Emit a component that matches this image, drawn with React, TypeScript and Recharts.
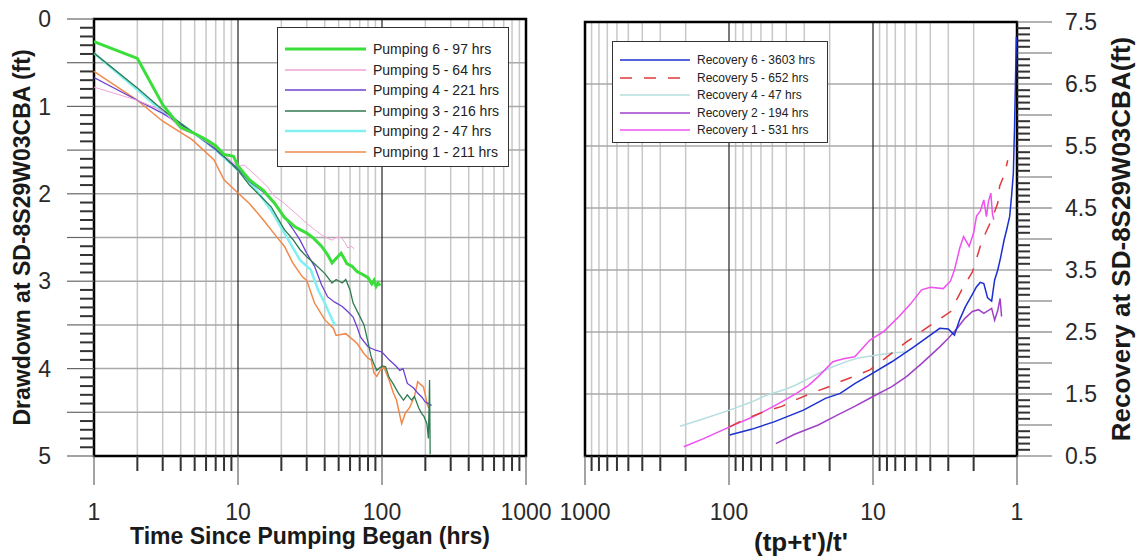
import React from "react";
import {
  LineChart,
  Line,
  XAxis,
  YAxis,
  CartesianGrid,
  ReferenceArea,
  Legend
} from "recharts";

const FONT = '"Liberation Sans", Arial, Helvetica, sans-serif';

// log axis, shared by both panels
const decadeTicks = [1, 10, 100, 1000];
const logTicks = [
  1, 2, 3, 4, 5, 6, 7, 8, 9, 10, 20, 30, 40, 50, 60, 70, 80, 90, 100,
  200, 300, 400, 500, 600, 700, 800, 900, 1000
];
const minorGridX = [
  2, 3, 4, 5, 6, 7, 8, 9, 20, 30, 40, 50, 60, 70, 80, 90, 200, 300, 400, 500,
  600, 700, 800, 900
];
const darkGridX = [10, 100];

const drawdownGridY = [0.5, 1, 1.5, 2, 2.5, 3, 3.5, 4, 4.5];
const recoveryGridY = [1.5, 2.5, 3.5, 4.5, 5.5, 6.5];

// minor ticks every 0.1 ft
const tenths = (a: number, b: number) =>
  Array.from({ length: Math.round((b - a) * 10) + 1 }, (_, i) => Math.round(a * 10 + i) / 10);
const drawdownTicks = tenths(0, 5);
const recoveryTicks = tenths(0.5, 7.5);

// ---- pumping tests: t = hours since pumping began, d = drawdown (ft)
const pump6 = [
  { t: 1, d: 0.26 }, { t: 2, d: 0.45 }, { t: 3, d: 0.98 }, { t: 4, d: 1.24 },
  { t: 5, d: 1.31 }, { t: 6, d: 1.38 }, { t: 7, d: 1.45 }, { t: 8, d: 1.55 },
  { t: 9.3, d: 1.57 }, { t: 10, d: 1.68 }, { t: 12, d: 1.84 }, { t: 15, d: 1.96 },
  { t: 18, d: 2.11 }, { t: 21, d: 2.27 }, { t: 25, d: 2.38 }, { t: 30, d: 2.45 },
  { t: 33, d: 2.5 }, { t: 38, d: 2.6 }, { t: 42, d: 2.7 }, { t: 45, d: 2.79 },
  { t: 48, d: 2.74 }, { t: 52, d: 2.68 }, { t: 55, d: 2.75 }, { t: 57, d: 2.8 },
  { t: 62, d: 2.83 }, { t: 67, d: 2.89 }, { t: 73, d: 2.92 }, { t: 80, d: 2.96 },
  { t: 85, d: 3.03 }, { t: 88, d: 2.99 }, { t: 91, d: 3.06 }, { t: 94, d: 3.02 },
  { t: 97, d: 3.05 }
];
const pump5 = [
  { t: 1, d: 0.78 }, { t: 2, d: 0.93 }, { t: 3, d: 1.05 }, { t: 4, d: 1.26 },
  { t: 5, d: 1.32 }, { t: 7, d: 1.47 }, { t: 10, d: 1.69 }, { t: 11, d: 1.67 },
  { t: 13.5, d: 1.8 }, { t: 16, d: 1.92 }, { t: 18, d: 2.03 }, { t: 21, d: 2.11 },
  { t: 25, d: 2.22 }, { t: 30, d: 2.34 }, { t: 34, d: 2.41 }, { t: 38, d: 2.47 },
  { t: 42, d: 2.51 }, { t: 45, d: 2.53 }, { t: 48, d: 2.5 }, { t: 52, d: 2.5 },
  { t: 55, d: 2.55 }, { t: 58, d: 2.62 }, { t: 61, d: 2.6 }, { t: 64, d: 2.63 }
];
const pump4 = [
  { t: 1, d: 0.67 }, { t: 2, d: 0.93 }, { t: 3, d: 1.08 }, { t: 4.8, d: 1.29 },
  { t: 6.8, d: 1.48 }, { t: 10, d: 1.71 }, { t: 12, d: 1.86 }, { t: 15, d: 1.98 },
  { t: 17, d: 2.07 }, { t: 21, d: 2.26 }, { t: 24, d: 2.4 }, { t: 27, d: 2.53 },
  { t: 30, d: 2.68 }, { t: 34, d: 2.83 }, { t: 38, d: 3.04 }, { t: 42, d: 3.18 },
  { t: 47, d: 3.24 }, { t: 53, d: 3.29 }, { t: 58, d: 3.35 }, { t: 63, d: 3.41 },
  { t: 67, d: 3.52 }, { t: 71, d: 3.64 }, { t: 80, d: 3.75 }, { t: 90, d: 3.79 },
  { t: 100, d: 3.81 }, { t: 112, d: 3.9 }, { t: 125, d: 3.97 }, { t: 133, d: 4.02 },
  { t: 140, d: 4.0 }, { t: 150, d: 4.17 }, { t: 165, d: 4.22 }, { t: 177, d: 4.28 },
  { t: 190, d: 4.33 }, { t: 199, d: 4.38 }, { t: 210, d: 4.4 }, { t: 221, d: 4.42 }
];
const pump3 = [
  { t: 1, d: 0.39 }, { t: 2, d: 0.79 }, { t: 3, d: 1.04 }, { t: 4.8, d: 1.29 },
  { t: 6.8, d: 1.46 }, { t: 10, d: 1.73 }, { t: 12, d: 1.9 }, { t: 17, d: 2.15 },
  { t: 21, d: 2.41 }, { t: 24, d: 2.52 }, { t: 27, d: 2.64 }, { t: 30, d: 2.72 },
  { t: 34, d: 2.8 }, { t: 40, d: 2.91 }, { t: 45, d: 3.02 }, { t: 48, d: 2.98 },
  { t: 53, d: 3.02 }, { t: 56, d: 2.98 }, { t: 60, d: 3.1 }, { t: 63, d: 3.25 },
  { t: 70, d: 3.4 }, { t: 75, d: 3.5 }, { t: 80, d: 3.7 }, { t: 84, d: 3.86 },
  { t: 88, d: 3.95 }, { t: 92, d: 4.02 }, { t: 100, d: 3.97 }, { t: 106, d: 3.98 },
  { t: 112, d: 4.1 }, { t: 119, d: 4.17 }, { t: 130, d: 4.28 }, { t: 141, d: 4.36 },
  { t: 150, d: 4.3 }, { t: 160, d: 4.36 }, { t: 168, d: 4.32 }, { t: 180, d: 4.45 },
  { t: 188, d: 4.51 }, { t: 196, d: 4.55 }, { t: 205, d: 4.63 }, { t: 210, d: 4.8 },
  { t: 214, d: 4.13 }, { t: 216, d: 4.98 }
];
const pump2 = [
  { t: 1, d: 0.39 }, { t: 2, d: 0.81 }, { t: 3, d: 1.06 }, { t: 4.8, d: 1.29 },
  { t: 6.8, d: 1.48 }, { t: 10, d: 1.73 }, { t: 13.5, d: 1.96 }, { t: 17, d: 2.19 },
  { t: 21, d: 2.45 }, { t: 27, d: 2.76 }, { t: 32, d: 2.87 }, { t: 36, d: 3.1 },
  { t: 40, d: 3.25 }, { t: 44, d: 3.4 }, { t: 47, d: 3.5 }
];
const pump1 = [
  { t: 1, d: 0.6 }, { t: 2, d: 0.93 }, { t: 3, d: 1.17 }, { t: 4.8, d: 1.38 },
  { t: 6.8, d: 1.61 }, { t: 8, d: 1.84 }, { t: 10, d: 1.99 }, { t: 12, d: 2.11 },
  { t: 15, d: 2.3 }, { t: 18.5, d: 2.49 }, { t: 21, d: 2.6 }, { t: 24, d: 2.79 },
  { t: 28, d: 2.95 }, { t: 30, d: 2.99 }, { t: 34, d: 3.25 }, { t: 40, d: 3.44 },
  { t: 46, d: 3.54 }, { t: 48, d: 3.62 }, { t: 56, d: 3.6 }, { t: 67, d: 3.71 },
  { t: 75, d: 3.83 }, { t: 80, d: 3.88 }, { t: 84, d: 3.9 }, { t: 88, d: 4.05 },
  { t: 92, d: 4.09 }, { t: 97, d: 4.02 }, { t: 103, d: 3.98 }, { t: 112, d: 4.13 },
  { t: 120, d: 4.28 }, { t: 126, d: 4.36 }, { t: 137, d: 4.63 }, { t: 145, d: 4.51 },
  { t: 155, d: 4.45 }, { t: 168, d: 4.32 }, { t: 177, d: 4.15 }, { t: 185, d: 4.18 },
  { t: 194, d: 4.21 }, { t: 200, d: 4.3 }, { t: 205, d: 4.4 }, { t: 211, d: 4.45 }
];

// ---- recovery tests: v = (tp+t')/t', r = recovery (ft)
const rec6 = [
  { v: 99, r: 0.84 }, { v: 70, r: 0.93 }, { v: 48.7, r: 1.05 }, { v: 30.4, r: 1.24 },
  { v: 21.4, r: 1.43 }, { v: 16.9, r: 1.51 }, { v: 13.3, r: 1.67 }, { v: 10.5, r: 1.81 },
  { v: 7.4, r: 2.02 }, { v: 5.2, r: 2.26 }, { v: 4.0, r: 2.45 }, { v: 3.44, r: 2.56 },
  { v: 3.0, r: 2.55 }, { v: 2.72, r: 2.45 }, { v: 2.5, r: 2.7 }, { v: 2.28, r: 2.91 },
  { v: 2.05, r: 3.1 }, { v: 1.91, r: 3.23 }, { v: 1.8, r: 3.3 }, { v: 1.7, r: 3.28 },
  { v: 1.6, r: 3.05 }, { v: 1.5, r: 3.0 }, { v: 1.43, r: 3.34 }, { v: 1.36, r: 3.5 },
  { v: 1.3, r: 3.7 }, { v: 1.23, r: 3.98 }, { v: 1.18, r: 4.15 }, { v: 1.125, r: 4.36 },
  { v: 1.09, r: 4.7 }, { v: 1.06, r: 5.06 }, { v: 1.04, r: 5.81 }, { v: 1.02, r: 6.78 },
  { v: 1.01, r: 7.26 }
];
const rec5 = [
  { v: 99, r: 0.97 }, { v: 80, r: 1.08 }, { v: 61, r: 1.19 }, { v: 43, r: 1.3 },
  { v: 35, r: 1.4 }, { v: 27, r: 1.51 }, { v: 20, r: 1.62 }, { v: 16.9, r: 1.7 },
  { v: 13, r: 1.8 }, { v: 10.5, r: 1.89 }, { v: 8.5, r: 2.05 }, { v: 7.4, r: 2.16 },
  { v: 5.85, r: 2.34 }, { v: 4.1, r: 2.59 }, { v: 2.89, r: 2.83 }, { v: 2.42, r: 3.18 },
  { v: 2.04, r: 3.47 }, { v: 1.8, r: 3.88 }, { v: 1.65, r: 4.1 }, { v: 1.5, r: 4.31 },
  { v: 1.36, r: 4.58 }, { v: 1.32, r: 4.85 }, { v: 1.22, r: 5.05 }, { v: 1.16, r: 5.27 }
];
const rec4 = [
  { v: 219, r: 0.98 }, { v: 150, r: 1.1 }, { v: 99, r: 1.24 }, { v: 70, r: 1.37 },
  { v: 55, r: 1.48 }, { v: 40, r: 1.58 }, { v: 34, r: 1.65 }, { v: 28, r: 1.75 },
  { v: 24, r: 1.83 }, { v: 19, r: 1.94 }, { v: 15, r: 2.03 }, { v: 12.6, r: 2.08 },
  { v: 9.4, r: 2.13 }, { v: 7.4, r: 2.16 }, { v: 5.8, r: 2.18 }
];
const rec2 = [
  { v: 47.3, r: 0.7 }, { v: 35, r: 0.85 }, { v: 24, r: 1.0 }, { v: 18, r: 1.15 },
  { v: 13.4, r: 1.3 }, { v: 10, r: 1.46 }, { v: 7.4, r: 1.62 }, { v: 5.85, r: 1.78 },
  { v: 4.6, r: 1.99 }, { v: 3.44, r: 2.26 }, { v: 3.0, r: 2.4 }, { v: 2.6, r: 2.56 },
  { v: 2.3, r: 2.72 }, { v: 2.04, r: 2.83 }, { v: 1.85, r: 2.86 }, { v: 1.7, r: 2.8 },
  { v: 1.5, r: 2.88 }, { v: 1.43, r: 2.69 }, { v: 1.36, r: 2.85 }, { v: 1.31, r: 3.04 },
  { v: 1.28, r: 2.75 }
];
const rec1 = [
  { v: 206, r: 0.65 }, { v: 150, r: 0.78 }, { v: 99, r: 0.97 }, { v: 70, r: 1.12 },
  { v: 55, r: 1.24 }, { v: 45, r: 1.35 }, { v: 34, r: 1.51 }, { v: 28, r: 1.64 },
  { v: 24, r: 1.78 }, { v: 19, r: 2.02 }, { v: 16, r: 2.07 }, { v: 13.4, r: 2.1 },
  { v: 10.5, r: 2.37 }, { v: 8.4, r: 2.51 }, { v: 6.6, r: 2.75 }, { v: 5.5, r: 2.95 },
  { v: 4.6, r: 3.18 }, { v: 4.0, r: 3.22 }, { v: 3.25, r: 3.2 }, { v: 2.9, r: 3.32 },
  { v: 2.72, r: 3.5 }, { v: 2.5, r: 3.85 }, { v: 2.35, r: 4.04 }, { v: 2.15, r: 3.88 },
  { v: 2.0, r: 4.1 }, { v: 1.91, r: 4.37 }, { v: 1.8, r: 4.45 }, { v: 1.7, r: 4.63 },
  { v: 1.63, r: 4.36 }, { v: 1.58, r: 4.6 }, { v: 1.52, r: 4.74 }, { v: 1.48, r: 4.4 },
  { v: 1.45, r: 4.31 }
];

// draw order = array order; legend order via legendOrder
const pumpSeries = [
  { key: "p1", name: "Pumping 1 - 211 hrs", data: pump1, color: "#f0894a", width: 1.5 },
  { key: "p2", name: "Pumping 2 - 47 hrs", data: pump2, color: "#80f0f0", width: 2.5 },
  { key: "p4", name: "Pumping 4 - 221 hrs", data: pump4, color: "#6a40d0", width: 1.3 },
  { key: "p3", name: "Pumping 3 - 216 hrs", data: pump3, color: "#2f7a50", width: 1.3 },
  { key: "p5", name: "Pumping 5 - 64 hrs", data: pump5, color: "#f0a2d6", width: 1 },
  { key: "p6", name: "Pumping 6 - 97 hrs", data: pump6, color: "#3ade3a", width: 3 }
];
const pumpLegendOrder = ["p6", "p5", "p4", "p3", "p2", "p1"];

const recSeries = [
  { key: "r4", name: "Recovery 4 - 47 hrs", data: rec4, color: "#b6dede", width: 1.5, dash: "" },
  { key: "r1", name: "Recovery 1 - 531 hrs", data: rec1, color: "#f050f0", width: 1.5, dash: "" },
  { key: "r2", name: "Recovery 2 - 194 hrs", data: rec2, color: "#a040c8", width: 1.5, dash: "" },
  { key: "r5", name: "Recovery 5 - 652 hrs", data: rec5, color: "#e03a3a", width: 1.5, dash: "12 12" },
  { key: "r6", name: "Recovery 6 - 3603 hrs", data: rec6, color: "#1a2fd0", width: 1.5, dash: "" }
];
const recLegendOrder = ["r6", "r5", "r4", "r2", "r1"];

type TickProps = { x?: number; y?: number; payload?: { value: number } };

function LogTick({ x = 0, y = 0, payload }: TickProps) {
  const v = payload ? payload.value : 0;
  const major = decadeTicks.includes(v);
  return (
    <g>
      <line x1={x} x2={x} y1={y} y2={y + (major ? 29 : 15)} stroke={major ? "#666" : "#333"} strokeWidth={major ? 1.2 : 2} />
      {major && (
        <text x={x} y={y + 64} textAnchor="middle" fontSize={23} fill="#2a2a2a" fontFamily={FONT}>
          {v}
        </text>
      )}
    </g>
  );
}

const isStep = (v: number, step: number) => Math.abs(v / step - Math.round(v / step)) < 1e-6;

function DrawdownTick({ x = 0, y = 0, payload }: TickProps) {
  const v = payload ? payload.value : 0;
  const half = isStep(v, 0.5);
  return (
    <g>
      <line x1={x} x2={x - (half ? 27 : 14)} y1={y} y2={y} stroke={half ? "#666" : "#333"} strokeWidth={half ? 1.2 : 2} />
      {isStep(v, 1) && (
        <text x={x - 43} y={y} dy="0.36em" textAnchor="end" fontSize={23} fill="#2a2a2a" fontFamily={FONT}>
          {Math.round(v)}
        </text>
      )}
    </g>
  );
}

function RecoveryTick({ x = 0, y = 0, payload }: TickProps) {
  const v = payload ? payload.value : 0;
  const half = isStep(v, 0.5);
  return (
    <g>
      <line x1={x} x2={x + (half ? 35 : 13)} y1={y} y2={y} stroke={half ? "#666" : "#333"} strokeWidth={half ? 1.2 : 2} />
      {isStep(v - 0.5, 1) && (
        <text x={x + 48} y={y} dy="0.36em" textAnchor="start" fontSize={23} fill="#2a2a2a" fontFamily={FONT}>
          {v.toFixed(1)}
        </text>
      )}
    </g>
  );
}

type LegendItem = { key: string; name: string; color: string; width: number; dash?: string };

function LegendBox({ items, order, fontSize, rowHeight, lineLen, padTop, height }: {
  items: LegendItem[]; order: string[]; fontSize: number; rowHeight: number; lineLen: number; padTop: number; height: number;
}) {
  return (
    <div
      style={{
        boxSizing: "border-box",
        height,
        border: "1.5px solid #333",
        background: "#fff",
        paddingTop: padTop,
        paddingLeft: 7,
        fontFamily: FONT
      }}
    >
      {order.map((k) => {
        const it = items.find((s) => s.key === k)!;
        return (
          <div key={k} style={{ display: "flex", alignItems: "center", height: rowHeight }}>
            <svg width={lineLen} height={8} style={{ display: "block" }}>
              <line x1={0} x2={lineLen} y1={4} y2={4} stroke={it.color} strokeWidth={Math.max(it.width, 1.5)} strokeDasharray={it.dash || undefined} />
            </svg>
            <span style={{ marginLeft: 7, fontSize, color: "#222", whiteSpace: "nowrap" }}>{it.name}</span>
          </div>
        );
      })}
    </div>
  );
}

export default function App() {
  return (
    <div style={{ position: "absolute", left: 0, top: 0, width: 1138, height: 558, background: "#fff" }}>
      {/* drawdown panel */}
      <div style={{ position: "absolute", left: 0, top: 0 }}>
        <LineChart width={560} height={558} margin={{ top: 19, right: 34, bottom: 0, left: 0 }}>
          <CartesianGrid verticalValues={minorGridX} horizontal={false} stroke="#c8c8c8" strokeWidth={1.5} />
          <CartesianGrid horizontalValues={drawdownGridY} vertical={false} stroke="#a8a8a8" strokeWidth={1.5} />
          <CartesianGrid verticalValues={darkGridX} horizontal={false} stroke="#222" strokeWidth={1.2} />
          <XAxis
            dataKey="t"
            type="number"
            scale="log"
            domain={[1, 1000]}
            allowDataOverflow
            ticks={logTicks}
            interval={0}
            height={102}
            tickSize={0}
            tickMargin={0}
            axisLine={false}
            tickLine={false}
            tick={(p: TickProps) => <LogTick {...p} />}
            label={{ value: "Time Since Pumping Began (hrs)", position: "insideBottom", offset: 14, style: { fontSize: 23, fontWeight: "bold", fill: "#1a1a1a", fontFamily: FONT } }}
          />
          <YAxis
            type="number"
            domain={[0, 5]}
            reversed
            allowDataOverflow
            ticks={drawdownTicks}
            interval={0}
            width={94}
            tickSize={0}
            tickMargin={0}
            axisLine={false}
            tickLine={false}
            tick={(p: TickProps) => <DrawdownTick {...p} />}
            label={{ value: "Drawdown at SD-8S29W03CBA (ft)", angle: -90, position: "insideLeft", offset: 22, style: { textAnchor: "middle", fontSize: 23, fontWeight: "bold", fill: "#1a1a1a", fontFamily: FONT } }}
          />
          {pumpSeries.map((s) => (
            <Line
              key={s.key}
              data={s.data}
              dataKey="d"
              name={s.name}
              type="linear"
              stroke={s.color}
              strokeWidth={s.width}
              dot={false}
              isAnimationActive={false}
            />
          ))}
          <ReferenceArea x1={1} x2={1000} y1={0} y2={5} fill="none" fillOpacity={0} stroke="#000" strokeWidth={2.5} />
          <Legend
            layout="vertical"
            align="center"
            verticalAlign="middle"
            wrapperStyle={{ left: 277, top: 27, width: 232, height: 140 }}
            content={() => (
              <LegendBox items={pumpSeries} order={pumpLegendOrder} fontSize={14} rowHeight={20.6} lineLen={81} padTop={10.7} height={140} />
            )}
          />
        </LineChart>
      </div>

      {/* recovery panel */}
      <div style={{ position: "absolute", left: 540, top: 0 }}>
        <LineChart width={598} height={558} margin={{ top: 22, right: 0, bottom: 0, left: 45 }}>
          <CartesianGrid verticalValues={minorGridX} horizontal={false} stroke="#c8c8c8" strokeWidth={1.5} />
          <CartesianGrid horizontalValues={recoveryGridY} vertical={false} stroke="#a8a8a8" strokeWidth={1.5} />
          <CartesianGrid verticalValues={darkGridX} horizontal={false} stroke="#222" strokeWidth={1.2} />
          <XAxis
            dataKey="v"
            type="number"
            scale="log"
            domain={[1, 1000]}
            reversed
            allowDataOverflow
            ticks={logTicks}
            interval={0}
            height={102}
            tickSize={0}
            tickMargin={0}
            axisLine={false}
            tickLine={false}
            tick={(p: TickProps) => <LogTick {...p} />}
            label={{ value: "(tp+t')/t'", position: "insideBottom", offset: 7, style: { fontSize: 26, fontWeight: "bold", fill: "#1a1a1a", fontFamily: FONT } }}
          />
          <YAxis
            type="number"
            orientation="right"
            domain={[0.5, 7.5]}
            allowDataOverflow
            ticks={recoveryTicks}
            interval={0}
            width={121}
            tickSize={0}
            tickMargin={0}
            axisLine={false}
            tickLine={false}
            tick={(p: TickProps) => <RecoveryTick {...p} />}
            label={{ value: "Recovery at SD-8S29W03CBA(ft)", angle: -90, position: "insideRight", offset: 17, style: { textAnchor: "middle", fontSize: 26, fontWeight: "bold", fill: "#1a1a1a", fontFamily: FONT } }}
          />
          {recSeries.map((s) => (
            <Line
              key={s.key}
              data={s.data}
              dataKey="r"
              name={s.name}
              type="linear"
              stroke={s.color}
              strokeWidth={s.width}
              strokeDasharray={s.dash || undefined}
              dot={false}
              isAnimationActive={false}
            />
          ))}
          <ReferenceArea x1={1} x2={1000} y1={0.5} y2={7.5} fill="none" fillOpacity={0} stroke="#000" strokeWidth={2.5} />
          <Legend
            layout="vertical"
            align="center"
            verticalAlign="middle"
            wrapperStyle={{ left: 72, top: 41, width: 216, height: 102 }}
            content={() => (
              <LegendBox items={recSeries} order={recLegendOrder} fontSize={12} rowHeight={17.5} lineLen={70} padTop={9.25} height={102} />
            )}
          />
        </LineChart>
      </div>
    </div>
  );
}
